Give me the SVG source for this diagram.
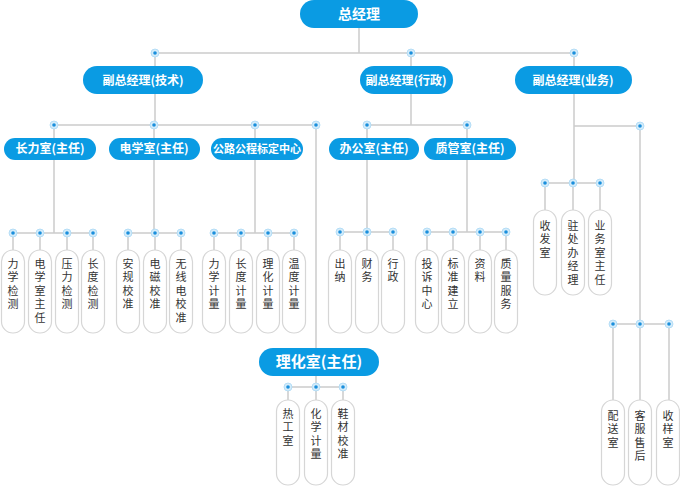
<svg xmlns="http://www.w3.org/2000/svg" width="680" height="486" viewBox="0 0 680 486">
<style>
.p{fill:#0a9be3}
.pt{fill:#fff;font-family:"Noto Sans CJK SC",sans-serif;font-weight:bold;font-size:12px;text-anchor:middle}
.l{fill:#fff;stroke:#d6d6d6;stroke-width:1.2}
.lt{fill:#333;font-family:"Noto Sans CJK SC",sans-serif;font-size:11px;writing-mode:vertical-rl;letter-spacing:2.5px}
.c{stroke:#cccccc;stroke-width:1.5;fill:none}
.d1{fill:#d4ecfa;stroke:#a9d8f5;stroke-width:0.8}
.d2{fill:#1a8fdc}
</style>
<defs>
<g id="dot"><circle class="d1" r="4"/><circle class="d2" r="1.8"/></g>
</defs>
<g id="connectors">
<path class="c" d="M359 28V53M155 53H574M155 53V66M411 53V66M574 53V66"/>
<path class="c" d="M155 94V125M54 125H316M54 125V138M154 125V138M255 125V138M316 125V348"/>
<path class="c" d="M54 160V233M13 233H93M13 233V250M40 233V250M67 233V250M93 233V250"/>
<path class="c" d="M154 160V233M128 233H181M128 233V250M155 233V250M181 233V250"/>
<path class="c" d="M255 160V233M214 233H294M214 233V250M241 233V250M268 233V250M294 233V250"/>
<path class="c" d="M316 376V387M288 387H343M288 387V400M316 387V400M343 387V400"/>
<path class="c" d="M411 94V125M367 125H467M367 125V138M467 125V138"/>
<path class="c" d="M367 160V232M340 232H393M340 232V250M367 232V250M393 232V250"/>
<path class="c" d="M467 160V232M427 232H506M427 232V250M453 232V250M480 232V250M506 232V250"/>
<path class="c" d="M574 94V183M545 183H600M545 183V210M573 183V210M600 183V210"/>
<path class="c" d="M574 126H640M640 126V324M613 324H669M613 324V400M640 324V400M669 324V400"/>
<use href="#dot" x="155" y="53"/><use href="#dot" x="411" y="53"/><use href="#dot" x="574" y="53"/>
<use href="#dot" x="54" y="125"/><use href="#dot" x="154" y="125"/><use href="#dot" x="255" y="125"/><use href="#dot" x="316" y="125"/>
<use href="#dot" x="13" y="233"/><use href="#dot" x="40" y="233"/><use href="#dot" x="67" y="233"/><use href="#dot" x="93" y="233"/>
<use href="#dot" x="128" y="233"/><use href="#dot" x="155" y="233"/><use href="#dot" x="181" y="233"/>
<use href="#dot" x="214" y="233"/><use href="#dot" x="241" y="233"/><use href="#dot" x="268" y="233"/><use href="#dot" x="294" y="233"/>
<use href="#dot" x="288" y="387"/><use href="#dot" x="316" y="387"/><use href="#dot" x="343" y="387"/>
<use href="#dot" x="367" y="125"/><use href="#dot" x="467" y="125"/>
<use href="#dot" x="340" y="232"/><use href="#dot" x="367" y="232"/><use href="#dot" x="393" y="232"/>
<use href="#dot" x="427" y="232"/><use href="#dot" x="453" y="232"/><use href="#dot" x="480" y="232"/><use href="#dot" x="506" y="232"/>
<use href="#dot" x="545" y="183"/><use href="#dot" x="573" y="183"/><use href="#dot" x="600" y="183"/>
<use href="#dot" x="640" y="126"/>
<use href="#dot" x="613" y="324"/><use href="#dot" x="640" y="324"/><use href="#dot" x="669" y="324"/>
</g>
<g id="n0"><rect class="p" x="300" y="0" width="118" height="28" rx="14"/><text class="pt" x="359" y="19" style="font-size:14px">总经理</text></g>
<g id="n1"><rect class="p" x="83" y="66" width="120" height="28" rx="14"/><text class="pt" x="143" y="85">副总经理(技术)</text></g>
<g id="n2"><rect class="p" x="360" y="66" width="93" height="28" rx="14"/><text class="pt" x="406" y="85">副总经理(行政)</text></g>
<g id="n3"><rect class="p" x="515" y="66" width="117" height="28" rx="14"/><text class="pt" x="573" y="85">副总经理(业务)</text></g>
<g id="n4"><rect class="p" x="4" y="138" width="92" height="22" rx="11"/><text class="pt" x="50" y="153">长力室(主任)</text></g>
<g id="n5"><rect class="p" x="109" y="138" width="91" height="22" rx="11"/><text class="pt" x="154" y="153">电学室(主任)</text></g>
<g id="n6"><rect class="p" x="211" y="138" width="92" height="22" rx="11"/><text class="pt" x="257" y="153" style="font-size:11px">公路公程标定中心</text></g>
<g id="n7"><rect class="p" x="329" y="138" width="90" height="22" rx="11"/><text class="pt" x="374" y="153">办公室(主任)</text></g>
<g id="n8"><rect class="p" x="424" y="138" width="92" height="22" rx="11"/><text class="pt" x="470" y="153">质管室(主任)</text></g>
<g id="n9"><rect class="p" x="259" y="348" width="120" height="28" rx="14"/><text class="pt" x="319" y="367" style="font-size:15px">理化室(主任)</text></g>
<g id="leaves">
<g id="a1"><rect class="l" x="1.5" y="250" width="23" height="83" rx="11.5"/><text class="lt" x="13" y="258">力学检测</text></g>
<g id="a2"><rect class="l" x="28.5" y="250" width="23" height="83" rx="11.5"/><text class="lt" x="40" y="258">电学室主任</text></g>
<g id="a3"><rect class="l" x="55.5" y="250" width="23" height="83" rx="11.5"/><text class="lt" x="67" y="258">压力检测</text></g>
<g id="a4"><rect class="l" x="81.5" y="250" width="23" height="83" rx="11.5"/><text class="lt" x="93" y="258">长度检测</text></g>
<g id="b1"><rect class="l" x="116.5" y="250" width="23" height="83" rx="11.5"/><text class="lt" x="128" y="258">安规校准</text></g>
<g id="b2"><rect class="l" x="143.5" y="250" width="23" height="83" rx="11.5"/><text class="lt" x="155" y="258">电磁校准</text></g>
<g id="b3"><rect class="l" x="169.5" y="250" width="23" height="83" rx="11.5"/><text class="lt" x="181" y="258">无线电校准</text></g>
<g id="c1"><rect class="l" x="202.5" y="250" width="23" height="83" rx="11.5"/><text class="lt" x="214" y="258">力学计量</text></g>
<g id="c2"><rect class="l" x="229.5" y="250" width="23" height="83" rx="11.5"/><text class="lt" x="241" y="258">长度计量</text></g>
<g id="c3"><rect class="l" x="256.5" y="250" width="23" height="83" rx="11.5"/><text class="lt" x="268" y="258">理化计量</text></g>
<g id="c4"><rect class="l" x="282.5" y="250" width="23" height="83" rx="11.5"/><text class="lt" x="294" y="258">温度计量</text></g>
<g id="d1"><rect class="l" x="328.5" y="250" width="23" height="83" rx="11.5"/><text class="lt" x="340" y="258">出纳</text></g>
<g id="d2"><rect class="l" x="355.5" y="250" width="23" height="83" rx="11.5"/><text class="lt" x="367" y="258">财务</text></g>
<g id="d3"><rect class="l" x="381.5" y="250" width="23" height="83" rx="11.5"/><text class="lt" x="393" y="258">行政</text></g>
<g id="e1"><rect class="l" x="415.5" y="250" width="23" height="83" rx="11.5"/><text class="lt" x="427" y="258">投诉中心</text></g>
<g id="e2"><rect class="l" x="441.5" y="250" width="23" height="83" rx="11.5"/><text class="lt" x="453" y="258">标准建立</text></g>
<g id="e3"><rect class="l" x="468.5" y="250" width="23" height="83" rx="11.5"/><text class="lt" x="480" y="258">资料</text></g>
<g id="e4"><rect class="l" x="494.5" y="250" width="23" height="83" rx="11.5"/><text class="lt" x="506" y="258">质量服务</text></g>
<g id="f1"><rect class="l" x="276.5" y="400" width="23" height="85" rx="11.5"/><text class="lt" x="288" y="408">热工室</text></g>
<g id="f2"><rect class="l" x="304.5" y="400" width="23" height="85" rx="11.5"/><text class="lt" x="316" y="408">化学计量</text></g>
<g id="f3"><rect class="l" x="331.5" y="400" width="23" height="85" rx="11.5"/><text class="lt" x="343" y="408">鞋材校准</text></g>
<g id="g1"><rect class="l" x="533.5" y="210" width="23" height="85" rx="11.5"/><text class="lt" x="545" y="220">收发室</text></g>
<g id="g2"><rect class="l" x="561.5" y="210" width="23" height="85" rx="11.5"/><text class="lt" x="573" y="220">驻处办经理</text></g>
<g id="g3"><rect class="l" x="588.5" y="210" width="23" height="85" rx="11.5"/><text class="lt" x="600" y="220">业务室主任</text></g>
<g id="h1"><rect class="l" x="601.5" y="400" width="23" height="85" rx="11.5"/><text class="lt" x="613" y="410">配送室</text></g>
<g id="h2"><rect class="l" x="628.5" y="400" width="23" height="85" rx="11.5"/><text class="lt" x="640" y="410">客服售后</text></g>
<g id="h3"><rect class="l" x="656.5" y="400" width="23" height="85" rx="11.5"/><text class="lt" x="668" y="410">收样室</text></g>
</g>
</svg>
